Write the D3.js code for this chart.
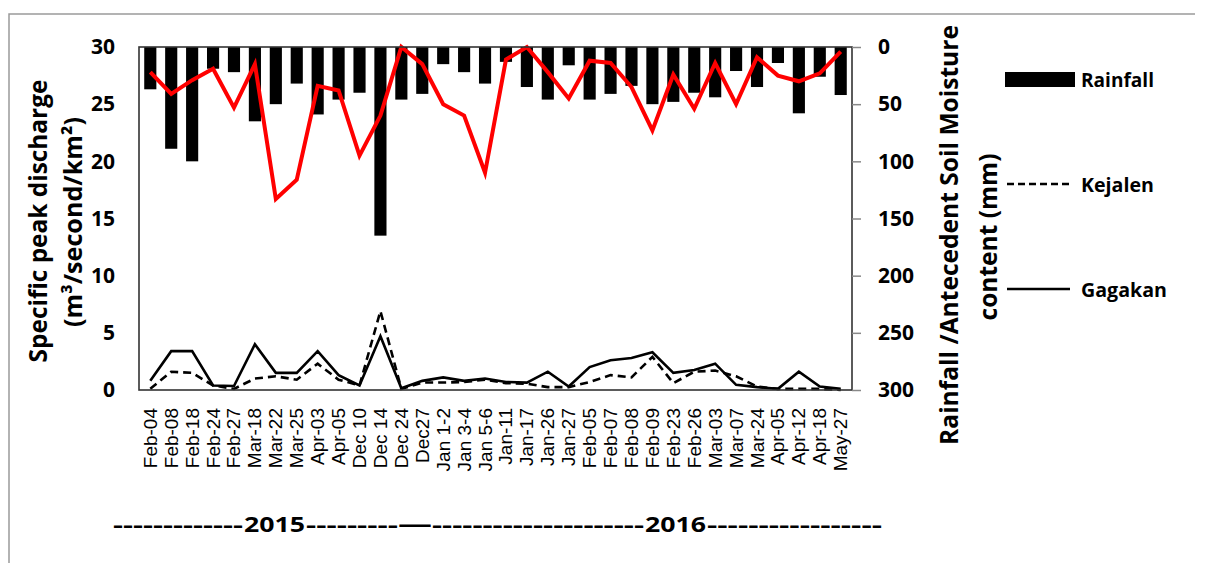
<!DOCTYPE html>
<html><head><meta charset="utf-8">
<script src="https://cdn.jsdelivr.net/npm/d3@7"></script>
<style>body{margin:0;background:#fff}svg{display:block}</style>
</head><body>
<svg id="c" width="1205" height="563"></svg>
<script>
const categories = ["Feb-04","Feb-08","Feb-18","Feb-24","Feb-27","Mar-18","Mar-22","Mar-25","Apr-03","Apr-05","Dec 10","Dec 14","Dec 24","Dec27","Jan 1-2","Jan 3-4","Jan 5-6","Jan-11","Jan-17","Jan-26","Jan-27","Feb-05","Feb-07","Feb-08 ","Feb-09","Feb-23","Feb-26","Mar-03","Mar-07","Mar-24","Apr-05 ","Apr-12","Apr-18","May-27"];
const rainfall = [37,89,100,19,22,65,50,32,59,46,40,165,46,41,15,22,32,13,35,46,16,46,41,34,50,48,40,44,21,35,14,58,26,42];
const soilMoisture = [22,41,29,19,53,15,133,116,34,38,95,60,0,15,50,60,110,11,0,22,45,12,14,35,73,24,54,14,50,9,25,30,23,4];
const gagakan = [0.8,3.4,3.4,0.4,0.35,4.0,1.5,1.5,3.4,1.3,0.4,4.7,0.15,0.8,1.1,0.8,1.0,0.7,0.65,1.6,0.3,2.0,2.6,2.8,3.3,1.5,1.75,2.3,0.45,0.25,0.1,1.6,0.3,0.1];
const kejalen = [0.1,1.6,1.5,0.4,0.1,1.0,1.2,0.9,2.3,0.9,0.4,6.9,0.1,0.65,0.65,0.7,0.9,0.6,0.55,0.25,0.25,0.7,1.3,1.1,2.9,0.6,1.6,1.7,1.2,0.3,0.1,0.1,0.1,0.0];
const leftTicks = [0,5,10,15,20,25,30];
const rightTicks = [0,50,100,150,200,250,300];
const leftTitle = ["Specific peak discharge","(m³/second/km²)"];
const rightTitle = ["Rainfall /Antecedent Soil Moisture","content (mm)"];
const legendLabels = ["Rainfall","Kejalen","Gagakan"];
const yearLabels = ["2015","2016"];

const svg = d3.select("#c");
const L = 139, R = 852, T = 47, B = 390;
const x = d3.scaleBand().domain(categories).range([L, R]).paddingInner(0.42).paddingOuter(0.25);
const cx = d => x(d) + x.bandwidth()/2;
const yL = d3.scaleLinear().domain([0,30]).range([B, T]);
const yR = d3.scaleLinear().domain([0,300]).range([T, B]);
const BF = "'Open Sans', sans-serif";

function fit(sel, len){
  sel.each(function(){
    const fs = parseFloat(this.getAttribute("font-size"));
    const w = this.getComputedTextLength();
    if (w > 0) this.setAttribute("font-size", (fs*len/w).toFixed(2));
  });
}

// outer border
svg.append("path").attr("d","M9,563 L9,14 L1195,14").attr("fill","none").attr("stroke","#9a9a9a").attr("stroke-width",1.5);

// bars
svg.append("g").selectAll("rect").data(categories).join("rect")
  .attr("x", d => x(d)).attr("width", x.bandwidth())
  .attr("y", yR(0)).attr("height", (d,i) => yR(rainfall[i]) - yR(0))
  .attr("fill","#000");

// red soil moisture line
svg.append("path").datum(soilMoisture)
  .attr("d", d3.line().x((d,i)=>cx(categories[i])).y(d=>yR(d)))
  .attr("fill","none").attr("stroke","#ff0000").attr("stroke-width",4).attr("stroke-linejoin","miter");

// discharge lines
svg.append("path").datum(kejalen)
  .attr("d", d3.line().x((d,i)=>cx(categories[i])).y(d=>yL(d)))
  .attr("fill","none").attr("stroke","#000").attr("stroke-width",2.6).attr("stroke-dasharray","8,5");
svg.append("path").datum(gagakan)
  .attr("d", d3.line().x((d,i)=>cx(categories[i])).y(d=>yL(d)))
  .attr("fill","none").attr("stroke","#000").attr("stroke-width",2.6);

// frame
svg.append("rect").attr("x",L).attr("y",T).attr("width",R-L).attr("height",B-T)
  .attr("fill","none").attr("stroke","#333").attr("stroke-width",1.6);

// left axis labels
const gl = svg.append("g").attr("transform",`translate(${L},0)`)
  .call(d3.axisLeft(yL).tickValues(leftTicks).tickSize(0).tickPadding(24));
gl.select(".domain").remove();
gl.selectAll("text").attr("font-family",BF).attr("font-weight",700).attr("font-size",21).attr("fill","#000");

// right axis
const gr = svg.append("g").attr("transform",`translate(${R},0)`)
  .call(d3.axisRight(yR).tickValues(rightTicks).tickSize(9).tickPadding(17));
gr.select(".domain").remove();
gr.selectAll("line").attr("stroke","#888").attr("stroke-width",1.5);
gr.selectAll("text").attr("font-family",BF).attr("font-weight",700).attr("font-size",21).attr("fill","#000");

// x labels
const gx = svg.append("g").attr("transform",`translate(0,${B})`)
  .call(d3.axisBottom(x).tickSize(0).tickFormat(d=>d.trim()));
gx.select(".domain").remove();
gx.selectAll("text")
  .attr("font-family","'Liberation Sans', Arial, sans-serif").attr("font-size",19).attr("fill","#000")
  .attr("text-anchor","end").attr("dy",null).attr("y",0)
  .attr("transform","translate(0,18) rotate(-90)").attr("dominant-baseline","central");

// left title
svg.append("text").attr("transform","translate(37,221) rotate(-90)")
  .attr("text-anchor","middle").attr("dominant-baseline","central")
  .attr("font-family",BF).attr("font-weight",700).attr("font-size",22).text(leftTitle[0]).call(fit,283);
svg.append("text").attr("transform","translate(72,222) rotate(-90)")
  .attr("text-anchor","middle").attr("dominant-baseline","central")
  .attr("font-family",BF).attr("font-weight",700).attr("font-size",22).text(leftTitle[1]).call(fit,210);

// right title
svg.append("text").attr("transform","translate(948,235) rotate(-90)")
  .attr("text-anchor","middle").attr("dominant-baseline","central")
  .attr("font-family",BF).attr("font-weight",700).attr("font-size",22).text(rightTitle[0]).call(fit,420);
svg.append("text").attr("transform","translate(987,237) rotate(-90)")
  .attr("text-anchor","middle").attr("dominant-baseline","central")
  .attr("font-family",BF).attr("font-weight",700).attr("font-size",22).text(rightTitle[1]).call(fit,167);

// legend
const lg = svg.append("g");
lg.append("rect").attr("x",1005).attr("y",72).attr("width",70).attr("height",15).attr("fill","#000");
lg.append("line").attr("x1",1007).attr("x2",1070).attr("y1",184).attr("y2",184)
  .attr("stroke","#000").attr("stroke-width",2.6).attr("stroke-dasharray","7,4");
lg.append("line").attr("x1",1007).attr("x2",1070).attr("y1",289).attr("y2",289)
  .attr("stroke","#000").attr("stroke-width",2.6);
const lgY = [80,184,289], lgW = [73,73,86];
legendLabels.forEach((t,i)=>{
  lg.append("text").attr("x",1081).attr("y",lgY[i]).attr("dominant-baseline","central")
    .attr("font-family",BF).attr("font-weight",700).attr("font-size",18).text(t).call(fit,lgW[i]);
});

// year row
const yr = svg.append("g").attr("font-family",BF).attr("font-weight",700).attr("font-size",22);
const segs = [
  {t:"-------------", x0:113, x1:243},
  {t:yearLabels[0], x0:244, x1:305},
  {t:"---------", x0:306, x1:398},
  {t:"—", x0:398, x1:432},
  {t:"---------------------", x0:432, x1:644},
  {t:yearLabels[1], x0:645, x1:706},
  {t:"-----------------", x0:707, x1:882}
];
segs.forEach(s=>{
  yr.append("text").attr("x",s.x0).attr("y",532).text(s.t)
    .attr("textLength",s.x1-s.x0).attr("lengthAdjust","spacingAndGlyphs");
});
</script>
</body></html>
